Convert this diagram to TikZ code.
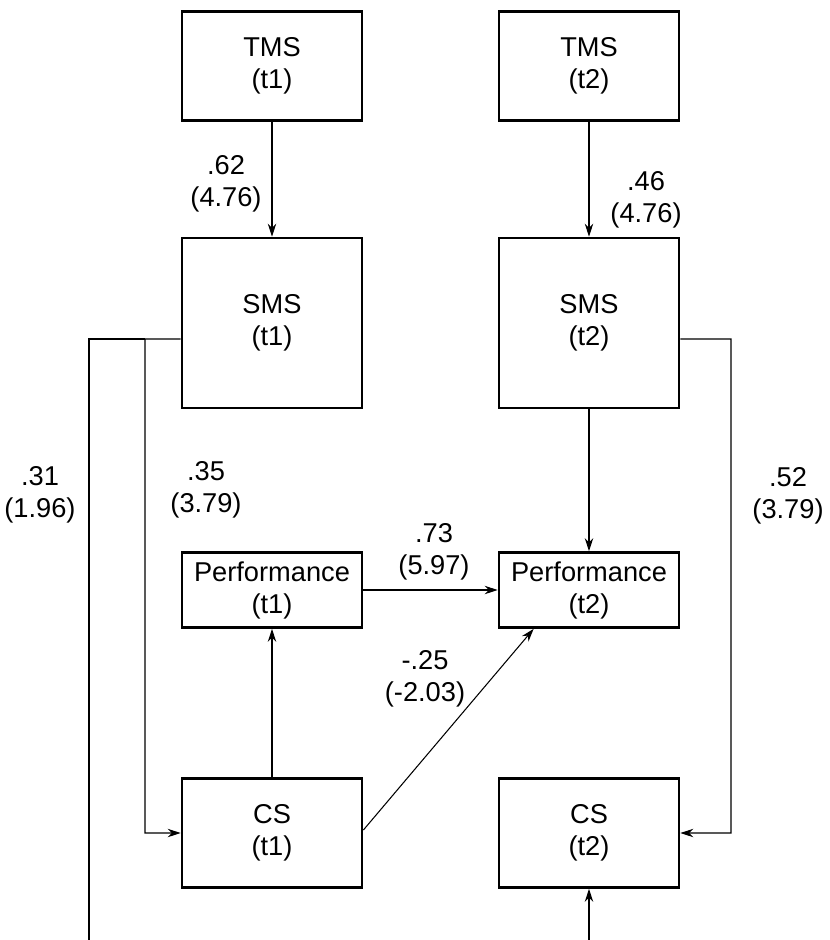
\documentclass[tikz,border=0pt]{standalone}
\usepackage{fontspec}
\setmainfont{Liberation Sans}
\usetikzlibrary{positioning, arrows.meta}

\begin{document}
\begin{tikzpicture}[
    x=0.02cm, y=-0.02cm,
    font=\fontsize{15.5}{18.2}\selectfont,
    box/.style={draw, line width=1.6pt, align=center, minimum width=3.6cm, inner sep=0pt},
    a/.style={-{Stealth[length=2.6mm, width=1.7mm]}, line width=0.6pt},
    l/.style={line width=0.6pt},
    lab/.style={align=center, inner sep=1pt},
  ]
    \useasboundingbox (0,0) rectangle (829,940);
    % column t1
    \node[box, minimum height=2.18cm] (tms1) at (272,66) {TMS\\(t1)};
    \node[box, minimum height=3.4cm] (sms1) at (272,323) {SMS\\(t1)};
    \node[box, minimum height=1.5cm] (perf1) at (272,590) {Performance\\(t1)};
    \node[box, minimum height=2.18cm] (cs1) at (272,833) {CS\\(t1)};
    % column t2
    \node[box, minimum height=2.18cm] (tms2) at (589,66) {TMS\\(t2)};
    \node[box, minimum height=3.4cm] (sms2) at (589,323) {SMS\\(t2)};
    \node[box, minimum height=1.5cm] (perf2) at (589,590) {Performance\\(t2)};
    \node[box, minimum height=2.18cm] (cs2) at (589,833) {CS\\(t2)};

    \coordinate (j0) at (89,339);
    \coordinate (j1) at (145,339);
    \coordinate (e0) at (89,940);
    \coordinate (j2) at (731,339);
    \coordinate (e2) at (589,940);

    \draw[a] (tms1) -- (sms1);
    \draw[a] (tms2) -- (sms2);
    \draw[a] (sms2) -- (perf2);
    \draw[a] (cs1) -- (perf1);
    \draw[a] (perf1) -- (perf2);
    \draw[a] ([yshift=0.06cm]cs1.east) -- ([xshift=0.72cm]perf2.south west);
    \draw[a] ([yshift=-0.32cm]sms1.west) -- (j1) |- (cs1.west);
    \draw[l] (j1) -- (j0) -- (e0);
    \draw[a] ([yshift=-0.32cm]sms2.east) -- (j2) |- (cs2.east);
    \draw[a] (e2) -- (cs2);

    % path labels
    \node[lab] (l62) at (226,184) {.62\\(4.76)};
    \node[lab] (l46) at (646,200) {.46\\(4.76)};
    \node[lab] (l31) at (40,495) {.31\\(1.96)};
    \node[lab] (l35) at (206,490) {.35\\(3.79)};
    \node[lab] (l73) at (434,552) {.73\\(5.97)};
    \node[lab] (l25) at (425,679) {-.25\\(-2.03)};
    \node[lab] (l52) at (788,496) {.52\\(3.79)};
  \end{tikzpicture}
\end{document}
